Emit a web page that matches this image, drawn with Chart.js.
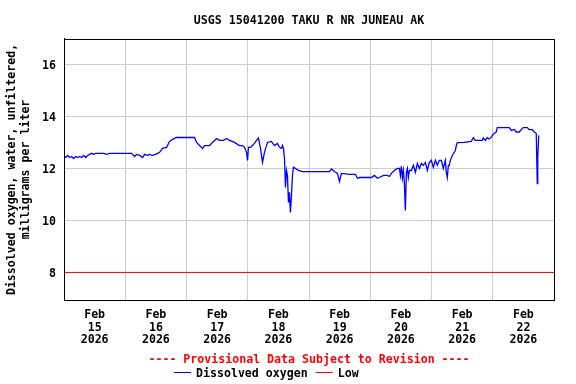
<!DOCTYPE html>
<html>
<head>
<meta charset="utf-8">
<script src="https://cdn.jsdelivr.net/npm/chart.js@4/dist/chart.umd.min.js"></script>
<style>
    body { margin: 0; background: #ffffff; }
    #wrap { width: 576px; height: 384px; }
</style>
</head>
<body>
<div id="wrap"><canvas id="doChart" width="576" height="384"></canvas></div>
<script>
// x = days after Feb 15 2026 00:00, y = dissolved oxygen (mg/L)
const days = [
    -0.5, -0.473, -0.44, -0.408, -0.375, -0.343, -0.31, -0.277, -0.245, -0.212,
    -0.179, -0.147, -0.114, -0.082, -0.049, -0.016, 0.016, 0.082, 0.147, 0.196,
    0.245, 0.375, 0.44, 0.506, 0.604, 0.653, 0.685, 0.734, 0.783, 0.816,
    0.865, 0.897, 0.946, 0.995, 1.028, 1.06, 1.109, 1.175, 1.223, 1.272,
    1.338, 1.436, 1.55, 1.631, 1.664, 1.713, 1.762, 1.794, 1.876, 1.925,
    1.99, 2.039, 2.104, 2.153, 2.202, 2.284, 2.365, 2.414, 2.447, 2.48,
    2.496, 2.512, 2.545, 2.577, 2.61, 2.643, 2.675, 2.708, 2.741, 2.773,
    2.822, 2.887, 2.936, 2.985, 3.018, 3.051, 3.067, 3.083, 3.1, 3.116,
    3.132, 3.148, 3.165, 3.181, 3.197, 3.214, 3.23, 3.246, 3.279, 3.328,
    3.393, 3.507, 3.67, 3.834, 3.866, 3.915, 3.964, 3.997, 4.029, 4.16,
    4.258, 4.29, 4.323, 4.421, 4.519, 4.568, 4.617, 4.649, 4.715, 4.78,
    4.812, 4.845, 4.894, 4.943, 4.976, 4.992, 5.008, 5.024, 5.041, 5.057,
    5.073, 5.09, 5.106, 5.122, 5.139, 5.171, 5.204, 5.237, 5.269, 5.302,
    5.334, 5.367, 5.4, 5.432, 5.465, 5.498, 5.53, 5.563, 5.595, 5.628,
    5.661, 5.693, 5.726, 5.742, 5.759, 5.775, 5.791, 5.808, 5.84, 5.889,
    5.905, 5.922, 6.036, 6.15, 6.183, 6.215, 6.33, 6.346, 6.378, 6.411,
    6.444, 6.476, 6.493, 6.525, 6.558, 6.574, 6.672, 6.77, 6.803, 6.852,
    6.884, 6.933, 6.966, 6.998, 7.064, 7.096, 7.145, 7.178, 7.21, 7.227,
    7.235, 7.251
];
const dissolvedOxygen = [
    12.46, 12.42, 12.50, 12.42, 12.46, 12.38, 12.46, 12.42, 12.46, 12.42,
    12.50, 12.42, 12.50, 12.54, 12.58, 12.54, 12.58, 12.58, 12.58, 12.54,
    12.58, 12.58, 12.58, 12.58, 12.58, 12.46, 12.54, 12.50, 12.42, 12.54,
    12.50, 12.54, 12.50, 12.54, 12.58, 12.62, 12.77, 12.81, 13.04, 13.12,
    13.19, 13.19, 13.19, 13.19, 13.00, 12.88, 12.77, 12.88, 12.88, 13.00,
    13.15, 13.08, 13.08, 13.15, 13.08, 13.00, 12.88, 12.88, 12.81, 12.62,
    12.31, 12.81, 12.81, 12.88, 12.96, 13.08, 13.17, 12.77, 12.23, 12.62,
    13.00, 13.04, 12.88, 12.96, 12.81, 12.77, 12.88, 12.77, 12.38, 11.27,
    11.92, 11.73, 10.69, 11.08, 10.31, 10.96, 11.73, 12.04, 12.00, 11.92,
    11.88, 11.88, 11.88, 11.88, 11.98, 11.88, 11.81, 11.50, 11.81, 11.77,
    11.77, 11.62, 11.65, 11.65, 11.65, 11.73, 11.62, 11.65, 11.73, 11.73,
    11.69, 11.81, 11.92, 12.00, 12.00, 11.73, 12.08, 11.62, 11.92, 11.46,
    10.38, 11.85, 12.00, 11.65, 11.92, 11.92, 12.12, 11.85, 12.19, 12.00,
    12.19, 12.12, 12.23, 11.92, 12.23, 12.31, 12.04, 12.31, 12.12, 12.31,
    12.31, 12.00, 12.31, 11.85, 11.65, 12.12, 12.12, 12.31, 12.50, 12.69,
    12.88, 12.99, 13.00, 13.04, 13.18, 13.08, 13.08, 13.18, 13.08, 13.18,
    13.13, 13.20, 13.27, 13.35, 13.40, 13.57, 13.57, 13.57, 13.46, 13.50,
    13.40, 13.40, 13.49, 13.57, 13.57, 13.49, 13.49, 13.40, 13.35, 11.42,
    12.42, 13.27
];
const lowThreshold = 8;
const xRange = [-0.5, 7.5];
const monthLabel = 'Feb';
const dayLabels = ['15', '16', '17', '18', '19', '20', '21', '22'];
const yearLabel = '2026';
const yTicks = [8, 10, 12, 14, 16];

const fontFamily = '"DejaVu Sans Mono", "Liberation Mono", monospace';
const font = { family: fontFamily, size: 11.6, weight: 'bold', lineHeight: 1.12 };
const gridColor = '#cccccc';

// Border around the plot area plus the provisional note and legend under the axis
const usgsFrame = {
    id: 'usgsFrame',
    afterDraw(chart) {
        const ctx = chart.ctx;
        const area = chart.chartArea;
        ctx.save();
        ctx.strokeStyle = '#000000';
        ctx.lineWidth = 1;
        ctx.strokeRect(Math.round(area.left) + 0.5, Math.round(area.top) + 0.5,
            Math.round(area.right - area.left), Math.round(area.bottom - area.top));

        ctx.font = 'bold 11.6px ' + fontFamily;
        ctx.textBaseline = 'middle';
        ctx.textAlign = 'center';
        ctx.fillStyle = '#ff0000';
        ctx.fillText('---- Provisional Data Subject to Revision ----', (area.left + area.right) / 2, 360);

        ctx.textAlign = 'left';
        let x = 174;
        chart.data.datasets.forEach(ds => {
            ctx.strokeStyle = ds.borderColor;
            ctx.lineWidth = 1;
            ctx.beginPath();
            ctx.moveTo(x, 372.5);
            ctx.lineTo(x + 17, 372.5);
            ctx.stroke();
            ctx.fillStyle = '#000000';
            ctx.fillText(ds.label, x + 22, 374);
            x += 22 + ctx.measureText(ds.label).width + 8;
        });
        ctx.restore();
    }
};

const ctx = document.getElementById('doChart').getContext('2d');
const doChart = new Chart(ctx, {
    type: 'line',
    data: {
        datasets: [{
            label: 'Dissolved oxygen',
            data: days.map((d, i) => ({ x: d, y: dissolvedOxygen[i] })),
            borderColor: '#0000ff',
            backgroundColor: '#0000ff',
            borderWidth: 1.3,
            pointRadius: 0,
            tension: 0
        }, {
            label: 'Low',
            data: xRange.map(d => ({ x: d, y: lowThreshold })),
            borderColor: '#ff0000',
            backgroundColor: '#ff0000',
            borderWidth: 1,
            pointRadius: 0
        }]
    },
    options: {
        responsive: false,
        animation: false,
        devicePixelRatio: 1,
        layout: { padding: { left: 0, right: 22, top: 0, bottom: 0 } },
        plugins: {
            legend: { display: false },
            tooltip: { enabled: false },
            title: {
                display: true,
                fullSize: false,
                text: 'USGS 15041200 TAKU R NR JUNEAU AK',
                color: '#000000',
                font: { family: fontFamily, size: 11.6, weight: 'bold', lineHeight: 1.2 },
                padding: { top: 14, bottom: 11 }
            }
        },
        scales: {
            x: {
                type: 'linear',
                min: xRange[0],
                max: xRange[1],
                afterBuildTicks: scale => {
                    const ticks = [];
                    for (let v = xRange[0]; v <= xRange[1]; v += 0.5) ticks.push({ value: v });
                    scale.ticks = ticks;
                },
                afterFit: scale => { scale.height = 84; },
                border: { display: true, color: '#000000' },
                grid: {
                    color: c => (c.tick && Number.isInteger(c.tick.value)) ? 'rgba(0,0,0,0)' : gridColor,
                    drawTicks: false
                },
                ticks: {
                    autoSkip: false,
                    maxRotation: 0,
                    padding: 8,
                    color: '#000000',
                    font: font,
                    callback: v => Number.isInteger(v) ? [monthLabel, dayLabels[v], yearLabel] : ''
                }
            },
            y: {
                min: 6.94,
                max: 16.98,
                afterBuildTicks: scale => { scale.ticks = yTicks.map(v => ({ value: v })); },
                afterFit: scale => { scale.width = 64; },
                border: { display: true, color: '#000000' },
                grid: { color: gridColor, drawTicks: false },
                ticks: { padding: 8, labelOffset: 2, color: '#000000', font: font },
                title: {
                    display: true,
                    text: ['Dissolved oxygen, water, unfiltered,', 'milligrams per liter'],
                    color: '#000000',
                    font: { family: fontFamily, size: 11.6, weight: 'bold', lineHeight: 1.22 },
                    padding: { top: 5, bottom: 0 }
                }
            }
        }
    },
    plugins: [usgsFrame]
});
</script>
</body>
</html>
